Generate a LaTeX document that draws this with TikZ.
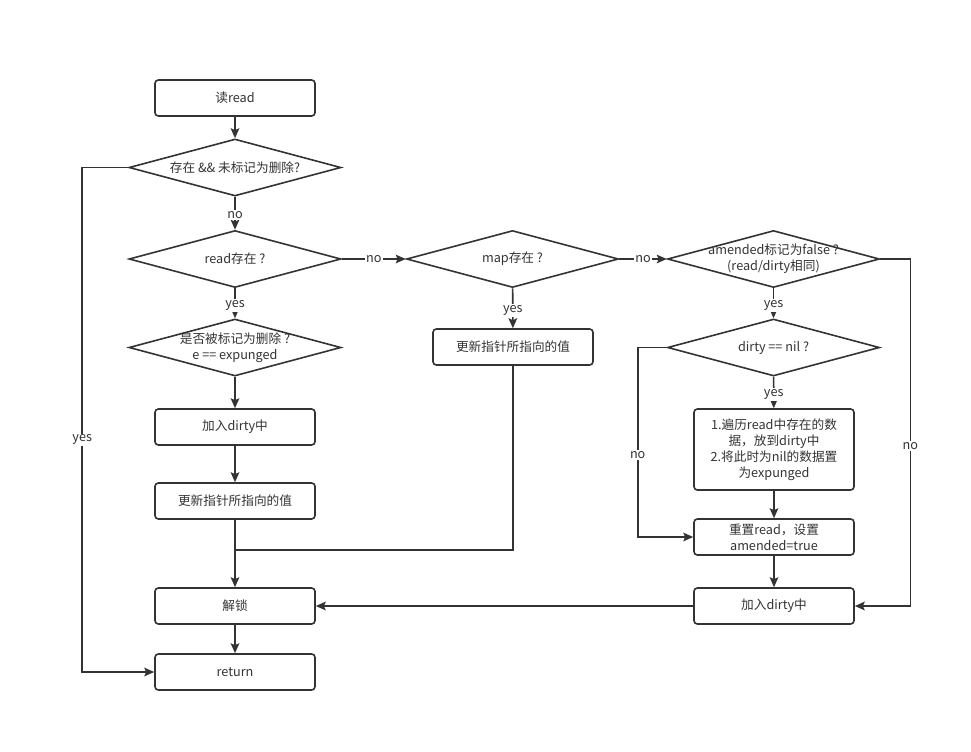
\documentclass[tikz,border=0pt]{standalone}
\usepackage{fontspec}
\setmainfont{Noto Sans CJK SC}
\usetikzlibrary{shapes.geometric,arrows.meta}

\definecolor{ink}{HTML}{333333}

\tikzset{
  box/.style={draw=ink, rounded corners=2.5pt, line width=1.2pt,
    minimum width=120pt, minimum height=27pt, align=center, inner sep=1pt},
  dia/.style={draw=ink, diamond, line width=1.2pt,
    minimum width=159pt, minimum height=42.75pt, inner sep=0pt},
  flow/.style={draw=ink, line width=1.2pt,
    -{Stealth[length=7.5pt,width=6.5pt,inset=1.5pt]}},
  link/.style={draw=ink, line width=1.2pt},
  tag/.style={fill=white, inner sep=1pt},
}

\begin{document}
\begin{tikzpicture}[x=0.75pt, y=-0.75pt, font=\fontsize{9.5}{12}\selectfont, text=ink]
  % canvas (pixel grid of the original, y downwards)
  \useasboundingbox (0,0) rectangle (971,751);

  % left column
  \node[box] (read) at (235,98) {读read};
  \node[dia, label={center:存在 \&\& 未标记为删除?}] (d1) at (235,167.5) {};
  \node[dia, label={center:read存在 ?}] (d2) at (235,259) {};
  \node[dia, label={[align=center]center:是否被标记为删除 ?\\e == expunged}] (d3) at (235,347.5) {};
  \node[box] (add1) at (235,427) {加入dirty中};
  \node[box] (upd1) at (235,501) {更新指针所指向的值};
  \node[box] (unlock) at (235,606) {解锁};
  \node[box] (ret) at (235,672) {return};

  % middle column
  \node[dia, label={center:map存在 ?}] (map) at (512.5,259) {};
  \node[box] (upd2) at (513,347) {更新指针所指向的值};

  % right column
  \node[dia, label={[align=center]center:amended标记为false ?\\(read/dirty相同)}] (amd) at (773.5,259) {};
  \node[dia, label={center:dirty == nil ?}] (d4) at (773.5,347.5) {};
  \node[box, minimum height=60.75pt] (fill) at (774,449.5)
    {1.遍历read中存在的数\\据，放到dirty中\\2.将此时为nil的数据置\\为expunged};
  \node[box] (reset) at (774,537) {重置read，设置\\amended=true};
  \node[box] (add2) at (774,606) {加入dirty中};

  % junction below the update boxes
  \coordinate (merge) at (235,550);

  % main path
  \draw[flow] (read) -- (d1);
  \draw[flow] (d1) -- node[tag, yshift=-1.5pt] {no} (d2);
  \draw[flow] (d2) -- node[tag, yshift=-1.5pt] {yes} (d3);
  \draw[flow] (d3) -- (add1);
  \draw[flow] (add1) -- (upd1);
  \draw[flow] (upd1) -- (unlock);
  \draw[flow] (unlock) -- (ret);
  \draw[flow] (d1.west) -- ++(-46,0) |- node[tag, pos=0.27] {yes} (ret.west);

  % map branch
  \draw[flow] (d2.east) -- node[tag] {no} (map.west);
  \draw[flow] (map) -- node[tag, yshift=-1.5pt] {yes} (upd2);
  \draw[link] (upd2.south) |- (merge);

  % dirty branch
  \draw[flow] (map.east) -- node[tag] {no} (amd.west);
  \draw[flow] (amd) -- node[tag, yshift=-1.5pt] {yes} (d4);
  \draw[flow] (d4) -- node[tag, yshift=-1.5pt] {yes} (fill);
  \draw[flow] (fill) -- (reset);
  \draw[flow] (reset) -- (add2);
  \draw[flow] (d4.west) -- ++(-29,0) |- node[tag, pos=0.284] {no} (reset.west);
  \draw[flow] (amd.east) -- ++(30,0) |- node[tag, pos=0.269] {no} (add2.east);
  \draw[flow] (add2) -- (unlock);
\end{tikzpicture}
\end{document}
